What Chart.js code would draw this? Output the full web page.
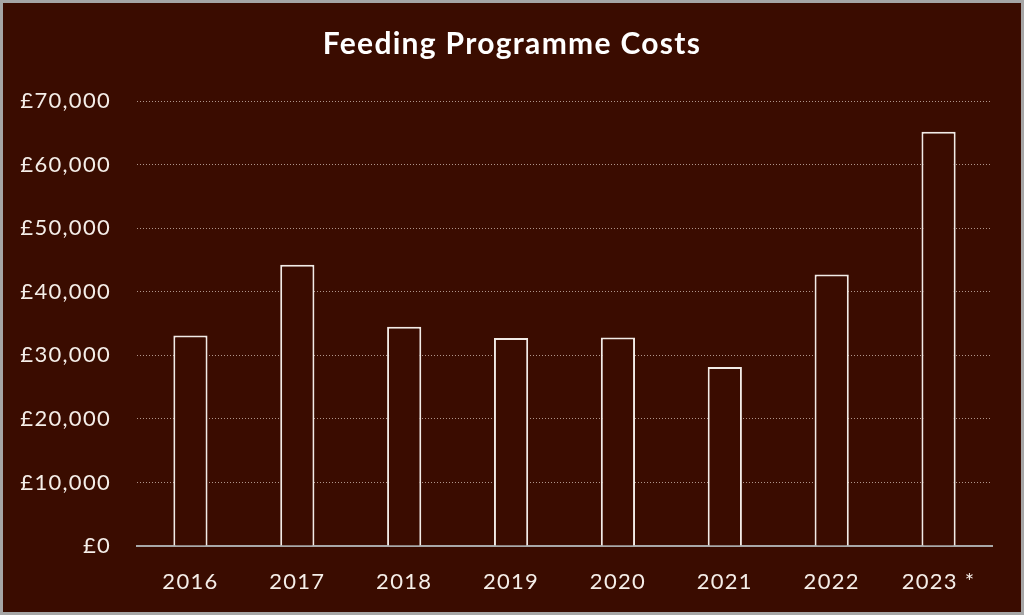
<!DOCTYPE html>
<html>
<head>
<meta charset="utf-8">
<script src="https://cdn.jsdelivr.net/npm/chart.js@4"></script>
<style>
  html, body { margin: 0; padding: 0; background: #a6a6a6; }
  #frame {
    width: 1024px; height: 615px; box-sizing: border-box;
    border: 3px solid #a6a6a6; background: #3a0c00;
  }
  #costChart { display: block; }
</style>
</head>
<body>
<div id="frame"><canvas id="costChart" width="1018" height="609"></canvas></div>
<script>
// values
const years = ['2016', '2017', '2018', '2019', '2020', '2021', '2022', '2023*'];
const costs = [33100, 44250, 34500, 32700, 32800, 28150, 42700, 65150];
const yTicks = [0, 10000, 20000, 30000, 40000, 50000, 60000, 70000];

const bg = '#3a0c00';
const ink = '#f5eee8';
const font = 'Lato, "Open Sans", sans-serif';

// the original uses a wide geometric face; widen Lato a little
const spacing = {
    id: 'spacing',
    beforeLayout: c => { c.ctx.letterSpacing = '1.3px'; },
    beforeDraw: c => { c.ctx.letterSpacing = '1.3px'; }
};

new Chart(document.getElementById('costChart'), {
    type: 'bar',
    plugins: [spacing],
    data: {
        labels: years,
        datasets: [{
            data: costs,
            backgroundColor: bg,
            borderColor: '#f2ebe6',
            borderWidth: 2,
            categoryPercentage: 1,
            barPercentage: 0.32
        }]
    },
    options: {
        responsive: false,
        animation: false,
        layout: { padding: 0 },
        plugins: {
            legend: { display: false },
            tooltip: { enabled: false },
            title: {
                display: true,
                text: 'Feeding Programme Costs',
                color: '#ffffff',
                font: { family: font, size: 30, weight: 'bold', lineHeight: 1.2 },
                padding: { top: 23, bottom: 39 }
            }
        },
        scales: {
            x: {
                grid: { display: false },
                border: { display: true, color: '#a8a8a8', width: 2 },
                ticks: {
                    color: ink,
                    font: { family: font, size: 22 },
                    padding: 15,
                    maxRotation: 0,
                    callback: (v, i) => years[i].replace('*', ' *')
                },
                afterFit: s => { s.height = 66; }
            },
            y: {
                min: 0,
                max: 70000,
                afterBuildTicks: s => { s.ticks = yTicks.map(v => ({ value: v })); },
                grid: {
                    color: 'rgba(215,195,185,0.75)',
                    lineWidth: 1,
                    drawTicks: false
                },
                border: { display: false, dash: [1, 2] },
                ticks: {
                    color: ink,
                    font: { family: font, size: 22 },
                    padding: 26,
                    callback: v => '£' + v.toLocaleString('en-GB')
                },
                afterFit: s => { s.width = 134; }
            },
            // empty right-hand margin so the title stays centred on the page
            gap: {
                position: 'right',
                grid: { display: false },
                border: { display: false },
                ticks: { display: false },
                afterFit: s => { s.width = 29; }
            }
        }
    }
});
</script>
</body>
</html>
